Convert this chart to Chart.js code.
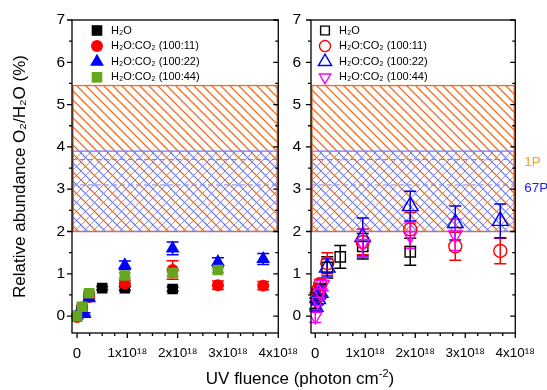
<!DOCTYPE html>
<html>
<head>
<meta charset="utf-8">
<script src="https://cdn.jsdelivr.net/npm/chart.js@4.4.0/dist/chart.umd.min.js"></script>
<style>
  html, body { margin: 0; padding: 0; background: #fff; overflow: hidden; }
  #wrap { position: relative; width: 547px; height: 390px; font-family: "Liberation Sans", Arial, sans-serif; }
  #wrap canvas { position: absolute; top: 0; }
  #xTitle { position: absolute; left: 100px; width: 400px; top: 369px; text-align: center;
            font-size: 17px; line-height: 20px; color: #000; white-space: nowrap; }
  #xTitle sup { font-size: 11px; vertical-align: 0; position: relative; top: -7px; }
</style>
</head>
<body>
<div id="wrap">
  <canvas id="leftChart" width="310" height="390" style="left:0"></canvas>
  <canvas id="rightChart" width="262" height="390" style="left:285px"></canvas>
  <div id="xTitle">UV fluence (photon cm<sup>-2</sup>)</div>
</div>
<script>
// --- data (O2/H2O in %, fluence in photon cm^-2) ---
const seriesLabels = ['H₂O', 'H₂O:CO₂ (100:11)', 'H₂O:CO₂ (100:22)', 'H₂O:CO₂ (100:44)'];

// left panel, filled symbols
const lH2oX   = [0, 0.1e18, 0.24e18, 0.5e18, 0.95e18, 1.9e18];
const lH2oY   = [0, 0.2, 0.48, 0.66, 0.66, 0.64];
const lH2oErr = [0.02, 0.03, 0.04, 0.04, 0.05, 0.05];
const l11X    = [0, 0.1e18, 0.24e18, 0.95e18, 1.9e18, 2.8e18, 3.7e18];
const l11Y    = [-0.02, 0.2, 0.45, 0.77, 1.09, 0.73, 0.72];
const l11Err  = [0.02, 0.03, 0.05, 0.08, 0.22, 0.1, 0.1];
const l22X    = [0, 0.15e18, 0.24e18, 0.95e18, 1.9e18, 2.8e18, 3.7e18];
const l22Y    = [0.02, 0.05, 0.42, 1.2, 1.6, 1.28, 1.35];
const l22Err  = [0.02, 0.03, 0.05, 0.1, 0.15, 0.1, 0.13];
const l44X    = [0, 0.1e18, 0.24e18, 0.95e18, 1.9e18, 2.8e18];
const l44Y    = [0, 0.22, 0.54, 0.96, 1.02, 1.09];
const l44Err  = [0.02, 0.03, 0.04, 0.06, 0.08, 0.06];

// right panel, open symbols
const rH2oX   = [0, 0.05e18, 0.1e18, 0.24e18, 0.5e18, 0.95e18, 1.9e18];
const rH2oY   = [0.3, 0.5, 0.62, 1.15, 1.4, 1.65, 1.52];
const rH2oErr = [0.12, 0.15, 0.15, 0.25, 0.27, 0.3, 0.32];
const r11X    = [0, 0.05e18, 0.1e18, 0.24e18, 0.95e18, 1.9e18, 2.8e18, 3.7e18];
const r11Y    = [0.45, 0.6, 0.75, 1.25, 1.75, 2.05, 1.65, 1.54];
const r11Err  = [0.1, 0.1, 0.12, 0.25, 0.3, 0.4, 0.33, 0.3];
const r22X    = [0, 0.05e18, 0.1e18, 0.24e18, 0.95e18, 1.9e18, 2.8e18, 3.7e18];
const r22Y    = [0.22, 0.4, 0.55, 1.15, 1.87, 2.6, 2.2, 2.25];
const r22Err  = [0.1, 0.12, 0.13, 0.2, 0.45, 0.35, 0.4, 0.4];
const r44X    = [0, 0.05e18, 0.1e18, 0.15e18, 0.95e18, 1.9e18, 2.8e18];
const r44Y    = [0, 0.35, 0.55, 0.75, 1.72, 1.9, 1.92];
const r44Err  = [0.15, 0.1, 0.15, 0.15, 0.33, 0.3, 0.37];

// comet ranges (1P/Halley, 67P)
const bandNames = ['1P', '67P'];
const bandLow   = [2.0, 2.0];
const bandHigh  = [5.45, 3.9];
const bandRef   = [3.7, 3.1];

// axis ticks
const xTicks = [0, 1e18, 2e18, 3e18, 4e18];
const yTicks = [0, 1, 2, 3, 4, 5, 6, 7];

// --- styling helpers ---
const ORANGE = '#f26b1d';
const BLUE_HATCH = '#7283f5';
const bandColors = [ORANGE, BLUE_HATCH];
const bandLineWidths = [1.25, 0.9];
const bandLabelColors = ['#f2a12e', '#1c1cf0'];

Chart.defaults.font.family = '"Liberation Sans", Arial, sans-serif';
Chart.defaults.color = '#000';

function toPoints(xs, ys) {
    return xs.map((x, i) => ({ x: x, y: ys[i] }));
}

function makeHatch(ctx, color, width, cross) {
    const c = document.createElement('canvas');
    c.width = 9; c.height = 9;
    const g = c.getContext('2d');
    g.strokeStyle = color;
    g.lineWidth = width;
    g.beginPath();
    g.moveTo(-1, -1); g.lineTo(10, 10);
    g.moveTo(-1, 8);  g.lineTo(1, 10);
    g.moveTo(8, -1);  g.lineTo(10, 1);
    if (cross) {
        g.moveTo(-1, 10); g.lineTo(10, -1);
        g.moveTo(-1, 1);  g.lineTo(1, -1);
        g.moveTo(8, 10);  g.lineTo(10, 8);
    }
    g.stroke();
    return ctx.createPattern(c, 'repeat');
}

// hatched comet bands + dashed reference lines
const bandPlugin = {
    id: 'bands',
    beforeDatasetsDraw(chart) {
        const { ctx, chartArea: a, scales: { y } } = chart;
        ctx.save();
        ctx.beginPath();
        ctx.rect(a.left, a.top, a.width, a.height);
        ctx.clip();
        for (let i = 0; i < bandNames.length; i++) {
            const top = y.getPixelForValue(bandHigh[i]);
            const bot = y.getPixelForValue(bandLow[i]);
            ctx.fillStyle = makeHatch(ctx, bandColors[i], bandLineWidths[i], i === 1);
            ctx.fillRect(a.left, top, a.width, bot - top);
        }
        for (let i = bandNames.length - 1; i >= 0; i--) {
            const top = y.getPixelForValue(bandHigh[i]);
            const bot = y.getPixelForValue(bandLow[i]);
            ctx.strokeStyle = bandColors[i];
            ctx.lineWidth = 1.3;
            ctx.strokeRect(a.left + 1, top, a.width - 2, bot - top);
            const r = y.getPixelForValue(bandRef[i]);
            ctx.setLineDash([5, 3]);
            ctx.lineWidth = 1;
            ctx.beginPath();
            ctx.moveTo(a.left, r);
            ctx.lineTo(a.right, r);
            ctx.stroke();
            ctx.setLineDash([]);
        }
        ctx.restore();
    }
};

// vertical error bars from dataset.errors
const errorBarPlugin = {
    id: 'errorBars',
    beforeDatasetsDraw(chart) {
        const { ctx, scales: { x, y } } = chart;
        ctx.save();
        chart.data.datasets.forEach(ds => {
            if (!ds.errors) return;
            ctx.strokeStyle = ds.borderColor;
            ctx.lineWidth = 1.5;
            ds.data.forEach((p, i) => {
                const e = ds.errors[i];
                const px = x.getPixelForValue(p.x);
                const y1 = y.getPixelForValue(p.y + e);
                const y2 = y.getPixelForValue(p.y - e);
                ctx.beginPath();
                ctx.moveTo(px, y1); ctx.lineTo(px, y2);
                ctx.moveTo(px - 6, y1); ctx.lineTo(px + 6, y1);
                ctx.moveTo(px - 6, y2); ctx.lineTo(px + 6, y2);
                ctx.stroke();
            });
        });
        ctx.restore();
    }
};

// frame, major/minor ticks, in-plot legend, comet labels
const framePlugin = {
    id: 'frame',
    afterDraw(chart, args, opts) {
        const { ctx, chartArea: a, scales: { x, y } } = chart;
        ctx.save();
        ctx.strokeStyle = '#000';
        ctx.lineWidth = 1.3;
        ctx.strokeRect(a.left, a.top, a.width, a.height);
        ctx.beginPath();
        for (let v = 0; v <= 7; v += 0.5) {
            const py = y.getPixelForValue(v);
            const len = Number.isInteger(v) ? 5 : 3;
            ctx.moveTo(a.left - len, py); ctx.lineTo(a.left, py);
            ctx.moveTo(a.right - len, py); ctx.lineTo(a.right, py);
        }
        for (let v = 0; v <= 4; v += 0.25) {
            const px = x.getPixelForValue(v * 1e18);
            const len = Number.isInteger(v) ? 5 : 3;
            ctx.moveTo(px, a.bottom); ctx.lineTo(px, a.bottom + len);
        }
        ctx.stroke();

        // legend inside the plot
        ctx.font = '11px "Liberation Sans", Arial, sans-serif';
        ctx.textBaseline = 'middle';
        ctx.textAlign = 'left';
        chart.data.datasets.forEach((d, i) => {
            const cy = a.top + 10.5 + i * 15.6;
            const cx = a.left + opts.markerX;
            ctx.fillStyle = d.backgroundColor;
            ctx.strokeStyle = d.borderColor;
            ctx.lineWidth = d.borderWidth;
            Chart.helpers.drawPoint(ctx, {
                pointStyle: d.pointStyle,
                radius: d.pointRadius * opts.legendScale,
                rotation: d.rotation || 0,
                borderWidth: d.borderWidth
            }, cx, cy);
            ctx.fillStyle = '#000';
            ctx.fillText(d.label, a.left + opts.textX, cy);
        });

        if (opts.bandLabels) {
            ctx.font = '13.5px "Liberation Sans", Arial, sans-serif';
            bandNames.forEach((n, i) => {
                ctx.fillStyle = bandLabelColors[i];
                ctx.fillText(n, a.right + 9, y.getPixelForValue(bandRef[i]) + 3);
            });
        }
        ctx.restore();
    }
};

function series(label, xs, ys, errs, color, style, radius, filled, rotation, order) {
    return {
        label: label,
        data: toPoints(xs, ys),
        errors: errs,
        pointStyle: style,
        pointRadius: radius,
        pointHoverRadius: radius,
        rotation: rotation,
        borderColor: color,
        backgroundColor: filled ? color : 'rgba(0,0,0,0)',
        borderWidth: filled ? 0 : 1.4,
        showLine: false,
        order: order
    };
}

function makeChart(id, datasets, cfg) {
    return new Chart(document.getElementById(id), {
        type: 'scatter',
        data: { datasets: datasets },
        options: {
            responsive: false,
            animation: false,
            devicePixelRatio: 1,
            layout: { padding: { top: 20, right: cfg.padRight, left: 0, bottom: 0 } },
            plugins: {
                legend: { display: false },
                tooltip: { enabled: false },
                frame: { markerX: cfg.markerX, textX: cfg.textX, legendScale: cfg.legendScale, bandLabels: cfg.bandLabels }
            },
            scales: {
                x: {
                    type: 'linear',
                    min: cfg.xMin,
                    max: 4e18,
                    afterBuildTicks: s => { s.ticks = xTicks.map(v => ({ value: v })); },
                    afterFit: s => { s.height = 57; },
                    grid: { display: false, drawTicks: false },
                    border: { display: false },
                    ticks: {
                        color: '#000',
                        padding: 12,
                        maxRotation: 0,
                        autoSkip: false,
                        font: c => ({ size: c.tick && c.tick.value === 0 ? 15 : 13.5 }),
                        callback: v => v === 0 ? '0' : (v / 1e18) + 'x10¹⁸'
                    }
                },
                y: {
                    min: -0.4,
                    max: 7,
                    afterBuildTicks: s => { s.ticks = yTicks.map(v => ({ value: v })); },
                    afterFit: s => { s.width = cfg.yWidth; },
                    grid: { display: false, drawTicks: false },
                    border: { display: false },
                    ticks: { color: '#000', padding: cfg.yPad, font: { size: 15.5 } },
                    title: {
                        display: cfg.yTitle,
                        text: 'Relative abundance O₂/H₂O (%)',
                        color: '#000',
                        font: { size: 17 },
                        padding: { top: 10, bottom: 0 }
                    }
                }
            }
        },
        plugins: [bandPlugin, errorBarPlugin, framePlugin]
    });
}

// left panel
makeChart('leftChart', [
    series(seriesLabels[0], lH2oX, lH2oY, lH2oErr, '#000000', 'rect', 7.5, true, 0, 4),
    series(seriesLabels[1], l11X, l11Y, l11Err, '#ff0000', 'circle', 6, true, 0, 3),
    series(seriesLabels[2], l22X, l22Y, l22Err, '#0000ff', 'triangle', 8, true, 0, 2),
    series(seriesLabels[3], l44X, l44Y, l44Err, '#66a61e', 'rect', 7.5, true, 0, 1)
], { padRight: 29, yWidth: 72, yPad: 7, yTitle: true, xMin: -0.1e18,
     markerX: 25, textX: 39, legendScale: 1, bandLabels: false });

// right panel
makeChart('rightChart', [
    series(seriesLabels[0], rH2oX, rH2oY, rH2oErr, '#000000', 'rect', 7.3, false, 0, 4),
    series(seriesLabels[1], r11X, r11Y, r11Err, '#ff0000', 'circle', 6.5, false, 0, 3),
    series(seriesLabels[2], r22X, r22Y, r22Err, '#0000ff', 'triangle', 9, false, 0, 2),
    series(seriesLabels[3], r44X, r44Y, r44Err, '#ff00ff', 'triangle', 7.7, false, 180, 1)
], { padRight: 27, yWidth: 26, yPad: 10, yTitle: false, xMin: -0.085e18,
     markerX: 14, textX: 28, legendScale: 0.85, bandLabels: true });
</script>
</body>
</html>
